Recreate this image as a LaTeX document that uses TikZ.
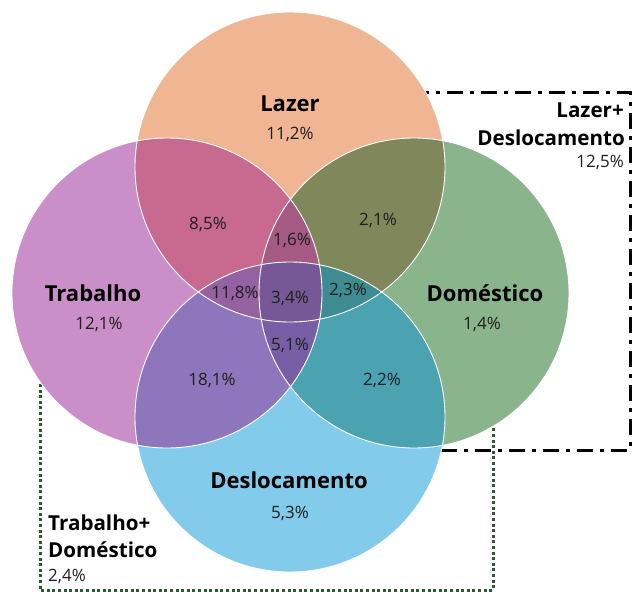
\documentclass[tikz,border=0pt]{standalone}
\usepackage{fontspec}
\setmainfont{Open Sans}
\definecolor{cLaz}{HTML}{F0B593}
\definecolor{cTra}{HTML}{CA8FC8}
\definecolor{cDom}{HTML}{8AB48C}
\definecolor{cDes}{HTML}{82CBEA}
\definecolor{cLT}{HTML}{C8698F}
\definecolor{cLD}{HTML}{80875A}
\definecolor{cTS}{HTML}{8E76BC}
\definecolor{cDS}{HTML}{4BA3B2}
\definecolor{cTD}{HTML}{8A6A9A}
\definecolor{cLS}{HTML}{9A7090}
\definecolor{cLTD}{HTML}{A45A82}
\definecolor{cLTS}{HTML}{9462A0}
\definecolor{cLDS}{HTML}{3E8C91}
\definecolor{cTDS}{HTML}{785FA5}
\definecolor{cQuad}{HTML}{765896}
\definecolor{cDot}{HTML}{2A5C30}
\begin{document}
\begin{tikzpicture}[x=1pt,y=-1pt,
  ttl/.style={font=\fontsize{22}{26}\selectfont\bfseries, text=black, inner sep=0pt},
  boxttl/.style={font=\fontsize{20.6}{24}\selectfont\bfseries, text=black, inner sep=0pt},
  pct/.style={font=\fontsize{17}{20}\selectfont, text=black!88, inner sep=0pt},
  dashdotbox/.style={draw=black, line width=3pt, dash pattern=on 16pt off 7pt on 4pt off 7pt},
  dotbox/.style={draw=cDot, line width=3pt, dash pattern=on 3pt off 2.6pt},
  rim/.style={draw=white, line width=0.9pt}
]
\useasboundingbox (0,0) rectangle (635,592);
\def\cL{(290,167) circle[radius=155pt]}
\def\cT{(167,293) circle[radius=155pt]}
\def\cD{(414,293) circle[radius=155pt]}
\def\cS{(290,417) circle[radius=155pt]}
% group boxes (behind the circles)
\draw[dashdotbox] (425,92) rectangle (630,450);
\draw[dotbox] (40,300) rectangle (493,590);
% single circles
\fill[cLaz] \cL;
\fill[cTra] \cT;
\fill[cDom] \cD;
\fill[cDes] \cS;
% pairs
\begin{scope}\clip \cL; \fill[cLT] \cT; \end{scope}
\begin{scope}\clip \cL; \fill[cLD] \cD; \end{scope}
\begin{scope}\clip \cT; \fill[cTS] \cS; \end{scope}
\begin{scope}\clip \cD; \fill[cDS] \cS; \end{scope}
\begin{scope}\clip \cT; \fill[cTD] \cD; \end{scope}
\begin{scope}\clip \cL; \fill[cLS] \cS; \end{scope}
% triples
\begin{scope}\clip \cL; \clip \cT; \fill[cLTD] \cD; \end{scope}
\begin{scope}\clip \cL; \clip \cT; \fill[cLTS] \cS; \end{scope}
\begin{scope}\clip \cL; \clip \cD; \fill[cLDS] \cS; \end{scope}
\begin{scope}\clip \cT; \clip \cD; \fill[cTDS] \cS; \end{scope}
% quadruple
\begin{scope}\clip \cL; \clip \cT; \clip \cD; \fill[cQuad] \cS; \end{scope}
% white rims
\draw[rim] \cL; \draw[rim] \cT; \draw[rim] \cD; \draw[rim] \cS;
% titles
\node[ttl] (tLaz) at (290,104) {Lazer};
\node[pct] (pLaz) at (290,134) {11,2\%};
\node[ttl] (tTra) at (93,293) {Trabalho};
\node[pct] (pTra) at (99,324) {12,1\%};
\node[ttl] (tDom) at (485,293) {Doméstico};
\node[pct] (pDom) at (482,324) {1,4\%};
\node[ttl] (tDes) at (289,480) {Deslocamento};
\node[pct] (pDes) at (290,513) {5,3\%};
% overlaps
\node[pct] (pLT) at (208,224) {8,5\%};
\node[pct] (pLD) at (378,220) {2,1\%};
\node[pct] (pLTD) at (292,240) {1,6\%};
\node[pct] (pLTS) at (235,293) {11,8\%};
\node[pct] (pQ) at (290,298) {3,4\%};
\node[pct] (pLDS) at (348,290) {2,3\%};
\node[pct] (pTDS) at (290,345) {5,1\%};
\node[pct] (pTS) at (212,380) {18,1\%};
\node[pct] (pDS) at (382,380) {2,2\%};
% group labels
\node[boxttl, anchor=east] (gLD1) at (624,110) {Lazer+};
\node[boxttl, anchor=east] (gLD2) at (625,138) {Deslocamento};
\node[pct, anchor=east] (gLD3) at (624,162) {12,5\%};
\node[boxttl, anchor=west] (gTD1) at (48,523) {Trabalho+};
\node[boxttl, anchor=west] (gTD2) at (48,550) {Doméstico};
\node[pct, anchor=west] (gTD3) at (48,576) {2,4\%};
\end{tikzpicture}
\end{document}
